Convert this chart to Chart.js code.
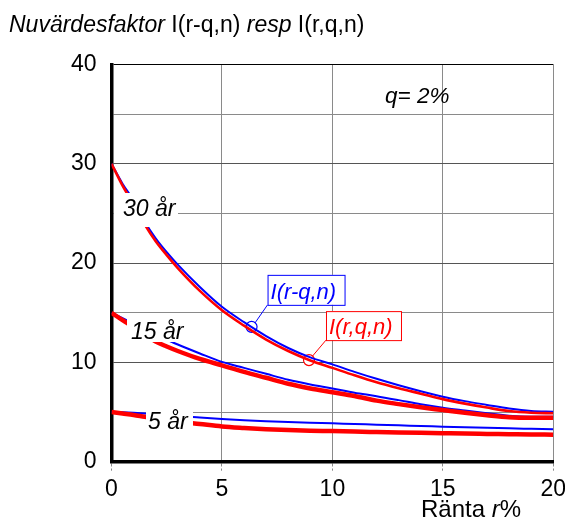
<!DOCTYPE html>
<html>
<head>
<meta charset="utf-8">
<script src="https://cdn.jsdelivr.net/npm/chart.js@4.4.1/dist/chart.umd.min.js"></script>
<style>
  html, body { margin: 0; padding: 0; background: #fff; }
  canvas { display: block; }
</style>
</head>
<body>
<canvas id="chart" width="565" height="527"></canvas>
<script>
// rate r in percent
const rates = [0, 0.5, 1, 1.5, 2, 2.5, 3, 4, 5, 6, 7, 8, 9, 10, 11, 12, 13, 14, 15, 16, 17, 18, 19, 20];

// I(r-q,n), blue
const blue30 = [30, 28.0, 26.3, 24.2, 22.5, 21.1, 19.85, 17.6, 15.6, 14.05, 12.65, 11.45, 10.5, 9.8, 9.05, 8.35, 7.7, 7.1, 6.55, 6.1, 5.72, 5.35, 5.1, 5.03];
const blue15 = [15, 14.45, 13.9, 13.35, 12.8, 12.3, 11.8, 10.9, 10.05, 9.45, 8.85, 8.25, 7.78, 7.38, 6.95, 6.6, 6.2, 5.78, 5.43, 5.15, 4.88, 4.62, 4.53, 4.53];
const blue5 = [5.0, 4.97, 4.92, 4.86, 4.78, 4.7, 4.6, 4.45, 4.3, 4.18, 4.08, 3.99, 3.92, 3.86, 3.79, 3.73, 3.66, 3.6, 3.53, 3.47, 3.42, 3.36, 3.31, 3.26];

// I(r,q,n), red
const red30 = [30, 27.8, 25.9, 23.9, 22.2, 20.8, 19.5, 17.2, 15.25, 13.7, 12.3, 11.15, 10.2, 9.45, 8.7, 8.0, 7.4, 6.85, 6.3, 5.85, 5.45, 5.1, 4.93, 4.88];
const red15 = [15, 14.25, 13.55, 12.8, 12.1, 11.6, 11.15, 10.35, 9.7, 9.05, 8.45, 7.85, 7.38, 7.0, 6.62, 6.15, 5.8, 5.48, 5.2, 4.92, 4.68, 4.48, 4.43, 4.43];
const red5 = [5.0, 4.85, 4.7, 4.52, 4.35, 4.2, 4.05, 3.8, 3.55, 3.4, 3.28, 3.18, 3.12, 3.08, 3.03, 2.99, 2.95, 2.91, 2.87, 2.83, 2.8, 2.77, 2.74, 2.72];

// callout markers on the 30-year curves
const markerRate = [6.34, 8.94];
const markerValue = [13.58, 10.23];
const markerText = ['I(r-q,n)', 'I(r,q,n)'];

const xTicks = [0, 5, 10, 15, 20];
const yTicks = [0, 10, 20, 30, 40];

const FONT = "'Liberation Sans', Arial, sans-serif";
const BLUE = '#0000ff';
const RED = '#ff0000';

const pts = (vals) => vals.map((v, i) => ({ x: rates[i], y: v }));

const curve = (vals, color, width) => ({
  data: pts(vals),
  showLine: true,
  borderColor: color,
  borderWidth: width,
  pointRadius: 0,
  cubicInterpolationMode: 'monotone',
  fill: false,
});

const textPlugin = {
  id: 'texts',
  afterDatasetsDraw(chart) {
    const ctx = chart.ctx;
    const xs = chart.scales.x, ys = chart.scales.y;
    ctx.save();

    // curve labels with white background
    const labels = [
      { t: '30 år', x: 123, y: 216, box: [114, 193, 64, 34] },
      { t: '15 år', x: 131, y: 339, box: [127, 318, 58, 24] },
      { t: '5 år', x: 148, y: 429, box: [146, 407, 47, 23] },
    ];
    ctx.font = 'italic 23px ' + FONT;
    ctx.textBaseline = 'alphabetic';
    labels.forEach(l => {
      ctx.fillStyle = '#fff';
      ctx.fillRect(l.box[0], l.box[1], l.box[2], l.box[3]);
      ctx.fillStyle = '#000';
      ctx.fillText(l.t, l.x, l.y);
    });

    // callouts
    const colors = [BLUE, RED];
    const boxes = [
      { dx: 16, dy: -52, w: 77, h: 30 },
      { dx: 17, dy: -49, w: 75, h: 29 },
    ];
    markerRate.forEach((r, i) => {
      const px = xs.getPixelForValue(r);
      const py = ys.getPixelForValue(markerValue[i]);
      const b = boxes[i];
      const bx = px + b.dx, by = py + b.dy;
      ctx.strokeStyle = colors[i];
      ctx.lineWidth = 1;
      ctx.beginPath();
      ctx.moveTo(px + 3.5, py - 4);
      ctx.lineTo(bx, by + b.h);
      ctx.stroke();
      ctx.fillStyle = '#fff';
      ctx.fillRect(bx, by, b.w, b.h);
      ctx.strokeRect(bx + 0.5, by + 0.5, b.w, b.h);
      ctx.fillStyle = colors[i];
      ctx.font = 'italic 22px ' + FONT;
      ctx.fillText(markerText[i], bx + 3, by + b.h - 6);
    });
    ctx.restore();
  },
  afterDraw(chart) {
    const ctx = chart.ctx;
    ctx.save();
    ctx.fillStyle = '#000';
    ctx.textBaseline = 'alphabetic';

    // title with mixed styles
    let x = 9;
    const parts = [['italic', 'Nuvärdesfaktor '], ['normal', 'I(r-q,n) '], ['italic', 'resp '], ['normal', 'I(r,q,n)']];
    parts.forEach(p => {
      ctx.font = p[0] + ' 23px ' + FONT;
      ctx.fillText(p[1], x, 32);
      x += ctx.measureText(p[1]).width;
    });

    // axis title
    x = 421;
    [['normal', 'Ränta '], ['italic', 'r'], ['normal', '%']].forEach(p => {
      ctx.font = p[0] + ' 24px ' + FONT;
      ctx.fillText(p[1], x, 517);
      x += ctx.measureText(p[1]).width;
    });

    ctx.font = 'italic 22.5px ' + FONT;
    ctx.fillText('q= 2%', 385, 103);
    ctx.restore();
  }
};

new Chart(document.getElementById('chart'), {
  type: 'scatter',
  data: {
    datasets: [
      curve(red30, RED, 2.6),
      curve(red15, RED, 4.5),
      curve(red5, RED, 4.5),
      curve(blue30, BLUE, 2),
      curve(blue15, BLUE, 2),
      curve(blue5, BLUE, 2),
      {
        data: markerRate.map((r, i) => ({ x: r, y: markerValue[i] })),
        showLine: false,
        pointRadius: 5.5,
        pointBackgroundColor: '#fff',
        pointBorderColor: [BLUE, RED],
        pointBorderWidth: 1.2,
      },
    ],
  },
  options: {
    responsive: false,
    animation: false,
    layout: { padding: { top: 64.5, right: 11.7, left: 0, bottom: 0 } },
    plugins: { legend: { display: false }, tooltip: { enabled: false } },
    scales: {
      x: {
        type: 'linear',
        min: 0,
        max: 20,
        afterBuildTicks: (s) => { s.ticks = xTicks.map(v => ({ value: v })); },
        afterFit: (s) => { s.height = 65.3; s.paddingLeft = 0; s.paddingRight = 0; },
        ticks: { font: { family: FONT, size: 23 }, color: '#000', padding: 5, maxRotation: 0 },
        grid: {
          color: (c) => c.tick && c.tick.value === 0 ? 'rgba(0,0,0,0)' : '#8a8a8a',
          borderDash: [3, 2],
          lineWidth: 1,
          tickLength: 9,
          tickColor: '#8a8a8a',
          tickBorderDash: [3, 2],
        },
        border: { color: '#000', width: 3.5 },
      },
      y: {
        min: 0,
        max: 40,
        afterBuildTicks: (s) => { s.ticks = [0, 5, 10, 15, 20, 25, 30, 35, 40].map(v => ({ value: v })); },
        afterFit: (s) => { s.width = 111.5; s.paddingTop = 0; s.paddingBottom = 0; },
        ticks: {
          font: { family: FONT, size: 23 },
          color: '#000',
          padding: 15,
          callback: (v) => yTicks.includes(v) ? String(v) : '',
        },
        grid: {
          color: (c) => {
            const v = c.tick ? c.tick.value : 0;
            if (v === 0) return 'rgba(0,0,0,0)';
            if (v === 40) return '#000';
            return v % 10 === 0 ? '#555' : '#8a8a8a';
          },
          borderDash: (c) => (c.tick && c.tick.value % 10 !== 0) ? [3, 2] : [],
          lineWidth: 1,
          drawTicks: false,
        },
        border: { color: '#000', width: 3.5 },
      },
    },
  },
  plugins: [textPlugin],
});
</script>
</body>
</html>
